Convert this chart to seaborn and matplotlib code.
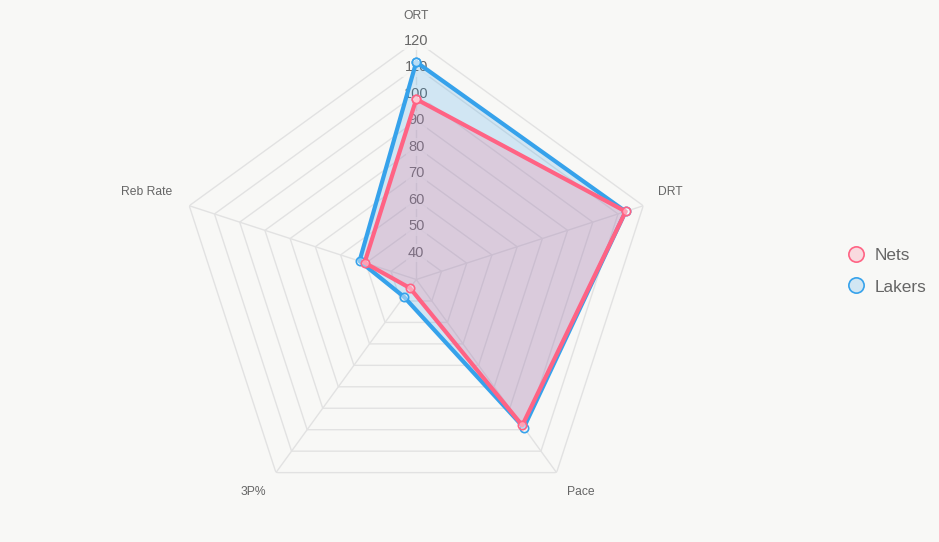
import numpy as np
import pandas as pd
import seaborn as sns
import matplotlib.pyplot as plt
from matplotlib.lines import Line2D
from matplotlib.colors import to_rgb

sns.set_theme(style="white")
plt.rcParams['font.family'] = ['Liberation Sans', 'DejaVu Sans']

# data (clockwise from top)
categories = ['ORT', 'DRT', 'Pace', '3P%', 'Reb Rate']
nets = [98, 113, 98, 34, 50.5]
lakers = [112, 113, 99, 38, 52.5]
tick_values = [40, 50, 60, 70, 80, 90, 100, 110, 120]

colors = {'Nets': '#ff6384', 'Lakers': '#36a2eb'}
bg = '#f8f8f6'
grid_color = '#e2e2e2'
text_color = '#666666'
r_min, r_max = 30, 120

n = len(categories)
angles = np.arange(n) * 2 * np.pi / n

rows = []
for team, vals in [('Lakers', lakers), ('Nets', nets)]:
    for i in range(n + 1):
        rows.append({'team': team, 'theta': angles[i % n], 'value': vals[i % n], 'order': i})
df = pd.DataFrame(rows)

fig = plt.figure(figsize=(9.39, 5.42), dpi=100, facecolor=bg)
ax = fig.add_axes([0.1891, 0.0439, 0.5084, 0.8808], projection='polar')
ax.set_facecolor(bg)
ax.set_theta_zero_location('N')
ax.set_theta_direction(-1)
ax.set_ylim(r_min, r_max)
ax.grid(False)
ax.spines['polar'].set_visible(False)
ax.set_xticks([])
ax.set_yticks([])

# polygon grid
closed = np.append(angles, angles[0])
for r in tick_values:
    ax.plot(closed, [r] * (n + 1), color=grid_color, lw=1, zorder=1)
for a in angles:
    ax.plot([a, a], [r_min, r_max], color=grid_color, lw=1, zorder=1)

# tick labels (under the fills, like the original)
for v in tick_values:
    ax.text(0, v, str(v), ha='center', va='center', fontsize=10.5, color=text_color,
            zorder=1.5, bbox=dict(boxstyle='square,pad=0.15', fc=bg, ec='none', alpha=0.8))

# fills
for team in ['Lakers', 'Nets']:
    sub = df[df['team'] == team]
    ax.fill(sub['theta'], sub['value'], color=colors[team], alpha=0.2, lw=0, zorder=2)

# lines with markers
for z, team in enumerate(['Lakers', 'Nets']):
    sub = df[df['team'] == team]
    sns.lineplot(data=sub, x='theta', y='value', sort=False, estimator=None,
                 color=colors[team], lw=3, marker='o', markersize=6,
                 markerfacecolor=(1, 1, 1, 0.4), markeredgecolor=colors[team],
                 markeredgewidth=1.2, ax=ax, zorder=3 + z, legend=False)
ax.set_xlabel('')
ax.set_ylabel('')

# category labels (theta deg, r)
label_pos = [(0, 129.4), (71.0, 131.5), (142.3, 131.2), (217.5, 130.9), (288.0, 136.8)]
for name, (t, r) in zip(categories, label_pos):
    ax.text(np.deg2rad(t), r, name, ha='center', va='center', fontsize=8.7,
            color=text_color, clip_on=False)

handles = [Line2D([], [], ls='none', marker='o', markersize=11,
                  markerfacecolor=(*to_rgb(colors[t]), 0.2),
                  markeredgecolor=colors[t], markeredgewidth=1.2) for t in ['Nets', 'Lakers']]
fig.legend(handles, ['Nets', 'Lakers'], loc='center left', bbox_to_anchor=(0.893, 0.4995),
           frameon=False, fontsize=12.4, labelcolor=text_color, handlelength=1.0,
           handletextpad=0.6, labelspacing=0.95, borderpad=0)

fig.savefig('out.png', dpi=100, facecolor=bg)
